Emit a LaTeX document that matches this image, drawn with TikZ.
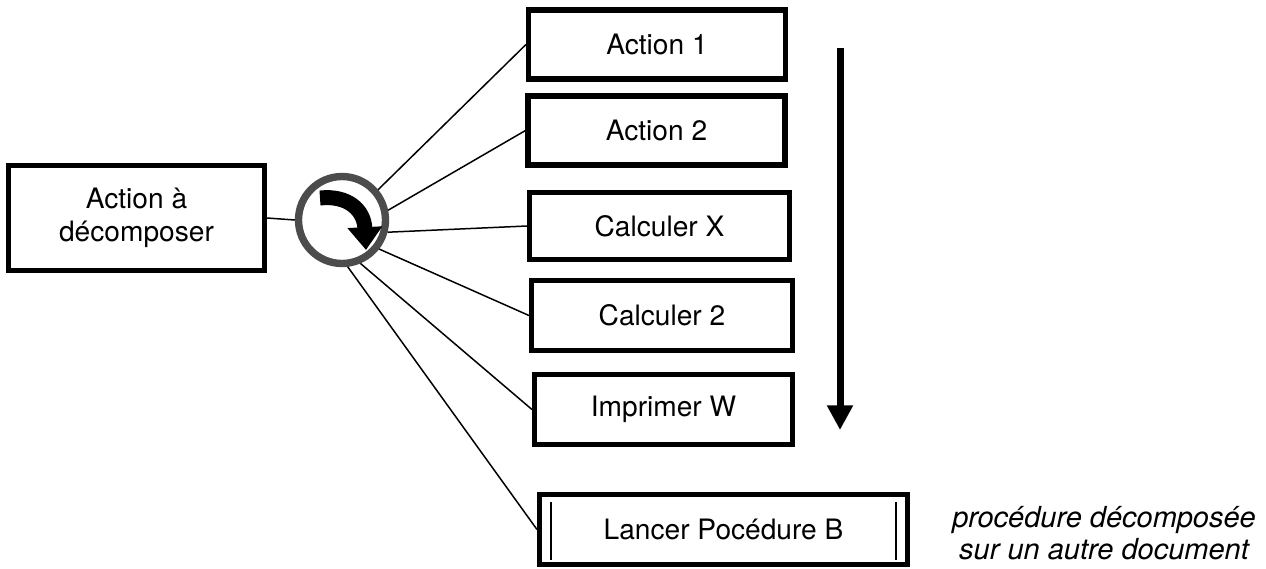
\documentclass[tikz,border=0pt]{standalone}
\usepackage{fontspec}
\setmainfont{TeX Gyre Heros}
\usetikzlibrary{arrows.meta}
\tikzset{
  box/.style={draw, line width=2.9pt, minimum width=5.14cm, minimum height=1.38cm, inner sep=0pt, align=center, font=\fontsize{16}{19}\selectfont},
  link/.style={line width=0.85pt},
  flow/.style={line width=4pt, -{Triangle[length=14pt,width=14pt]}}
}
\begin{document}
\begin{tikzpicture}[x=0.02cm,y=-0.02cm]
    \useasboundingbox (0,0) rectangle (1266,568);
    \node[box, minimum width=5.12cm, minimum height=2.1cm] (src) at (136.5,218) {Action à\\décomposer};
    \node[draw=black!70, fill=white, circle, line width=4.2pt, minimum size=1.74cm, inner sep=0pt] (ring) at (342,220) {};
    \node[box] (a1) at (657,44.5) {Action 1};
    \node[box] (a2) at (656.5,130.5) {Action 2};
    \node[box, minimum width=5.2cm, minimum height=1.34cm] (cx) at (659.5,226) {Calculer X};
    \node[box, minimum width=5.22cm, minimum height=1.4cm] (c2) at (662,315.5) {Calculer 2};
    \node[box, minimum width=5.16cm, minimum height=1.4cm] (iw) at (663.5,409.5) {Imprimer W};
    \node[box, minimum width=7.36cm, minimum height=1.4cm] (lb) at (723.5,529.5) {Lancer Pocédure B};
    \node[font=\fontsize{16.5}{18.5}\selectfont\itshape, align=center] (note) at (1104,533) {procédure décomposée\\sur un autre document};
    \draw[link] (551,502) -- (551,560);
    \draw[link] (896,502) -- (896,560);
    \draw[link] (src.east) -- (ring.west);
    \draw[link] (ring.40) -- (a1.west);
    \draw[link] (ring.12) -- (a2.west);
    \draw[link] (ring.-15) -- (cx.west);
    \draw[link] (ring.-38) -- (c2.west);
    \draw[link] (ring.-67) -- (iw.west);
    \draw[link] (ring.-83) -- (lb.west);
    \draw[line width=8.5pt, -{Triangle[length=13pt,width=19pt]}] (320,198) .. controls (348,195) and (364,210) .. (366,250);
    \coordinate (top) at (840,48);
    \coordinate (bot) at (840,430);
    \draw[flow] (top) -- (bot);
\end{tikzpicture}
\end{document}
